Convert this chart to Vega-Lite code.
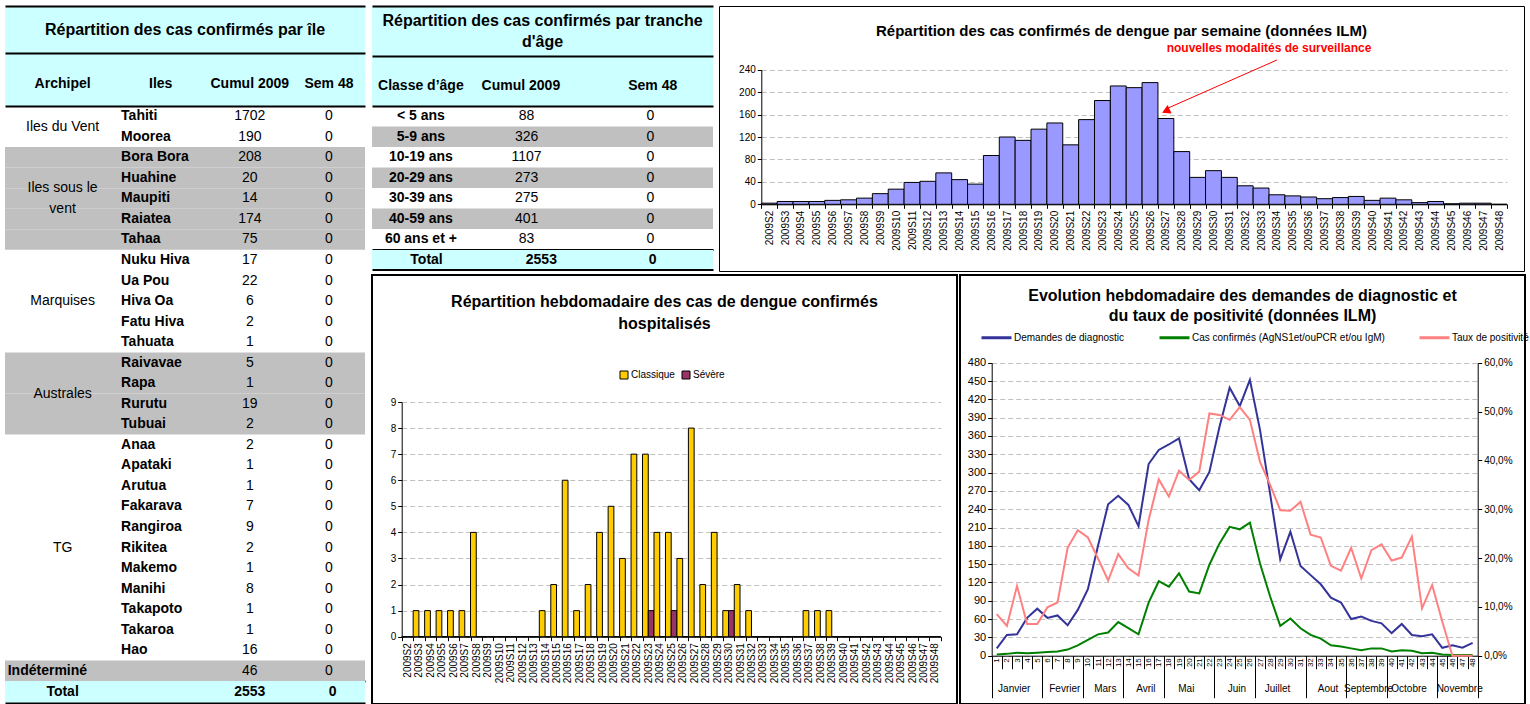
{
"$schema": "https://vega.github.io/schema/vega-lite/v6.json",
"padding": {"left": 5, "top": 5, "right": 0, "bottom": 0},
"background": "#FFFFFF",
"config": {
  "font": "Liberation Sans",
  "view": {"stroke": null},
  "text": {"color": "#000000", "font": "Liberation Sans"},
  "axis": {"labelFont": "Liberation Sans", "labelColor": "#000000", "domainColor": "#000000", "tickColor": "#000000", "gridColor": "#C0C0C0", "gridDash": [5, 3], "titleFont": "Liberation Sans"},
  "legend": {"labelFont": "Liberation Sans", "labelColor": "#000000"},
  "title": {"font": "Liberation Sans", "color": "#000000"}
},
"datasets": {
  "iles": [
    {"archipel": "Iles du Vent", "ile": "Tahiti", "cumul": 1702, "sem48": 0},
    {"archipel": "Iles du Vent", "ile": "Moorea", "cumul": 190, "sem48": 0},
    {"archipel": "Iles sous le vent", "ile": "Bora Bora", "cumul": 208, "sem48": 0},
    {"archipel": "Iles sous le vent", "ile": "Huahine", "cumul": 20, "sem48": 0},
    {"archipel": "Iles sous le vent", "ile": "Maupiti", "cumul": 14, "sem48": 0},
    {"archipel": "Iles sous le vent", "ile": "Raiatea", "cumul": 174, "sem48": 0},
    {"archipel": "Iles sous le vent", "ile": "Tahaa", "cumul": 75, "sem48": 0},
    {"archipel": "Marquises", "ile": "Nuku Hiva", "cumul": 17, "sem48": 0},
    {"archipel": "Marquises", "ile": "Ua Pou", "cumul": 22, "sem48": 0},
    {"archipel": "Marquises", "ile": "Hiva Oa", "cumul": 6, "sem48": 0},
    {"archipel": "Marquises", "ile": "Fatu Hiva", "cumul": 2, "sem48": 0},
    {"archipel": "Marquises", "ile": "Tahuata", "cumul": 1, "sem48": 0},
    {"archipel": "Australes", "ile": "Raivavae", "cumul": 5, "sem48": 0},
    {"archipel": "Australes", "ile": "Rapa", "cumul": 1, "sem48": 0},
    {"archipel": "Australes", "ile": "Rurutu", "cumul": 19, "sem48": 0},
    {"archipel": "Australes", "ile": "Tubuai", "cumul": 2, "sem48": 0},
    {"archipel": "TG", "ile": "Anaa", "cumul": 2, "sem48": 0},
    {"archipel": "TG", "ile": "Apataki", "cumul": 1, "sem48": 0},
    {"archipel": "TG", "ile": "Arutua", "cumul": 1, "sem48": 0},
    {"archipel": "TG", "ile": "Fakarava", "cumul": 7, "sem48": 0},
    {"archipel": "TG", "ile": "Rangiroa", "cumul": 9, "sem48": 0},
    {"archipel": "TG", "ile": "Rikitea", "cumul": 2, "sem48": 0},
    {"archipel": "TG", "ile": "Makemo", "cumul": 1, "sem48": 0},
    {"archipel": "TG", "ile": "Manihi", "cumul": 8, "sem48": 0},
    {"archipel": "TG", "ile": "Takapoto", "cumul": 1, "sem48": 0},
    {"archipel": "TG", "ile": "Takaroa", "cumul": 1, "sem48": 0},
    {"archipel": "TG", "ile": "Hao", "cumul": 16, "sem48": 0},
    {"archipel": "Indéterminé", "ile": null, "cumul": 46, "sem48": 0}
  ],
  "ages": [
    {"classe": "< 5 ans", "cumul": 88, "sem48": 0},
    {"classe": "5-9 ans", "cumul": 326, "sem48": 0},
    {"classe": "10-19 ans", "cumul": 1107, "sem48": 0},
    {"classe": "20-29 ans", "cumul": 273, "sem48": 0},
    {"classe": "30-39 ans", "cumul": 275, "sem48": 0},
    {"classe": "40-59 ans", "cumul": 401, "sem48": 0},
    {"classe": "60 ans et +", "cumul": 83, "sem48": 0}
  ],
  "hebdo": [
    {"semaine": "2009S2", "cas": 2}, {"semaine": "2009S3", "cas": 5}, {"semaine": "2009S4", "cas": 5},
    {"semaine": "2009S5", "cas": 5}, {"semaine": "2009S6", "cas": 7}, {"semaine": "2009S7", "cas": 8},
    {"semaine": "2009S8", "cas": 11}, {"semaine": "2009S9", "cas": 19}, {"semaine": "2009S10", "cas": 27},
    {"semaine": "2009S11", "cas": 39}, {"semaine": "2009S12", "cas": 41}, {"semaine": "2009S13", "cas": 56},
    {"semaine": "2009S14", "cas": 44}, {"semaine": "2009S15", "cas": 36}, {"semaine": "2009S16", "cas": 87},
    {"semaine": "2009S17", "cas": 120}, {"semaine": "2009S18", "cas": 114}, {"semaine": "2009S19", "cas": 134},
    {"semaine": "2009S20", "cas": 145}, {"semaine": "2009S21", "cas": 106}, {"semaine": "2009S22", "cas": 151},
    {"semaine": "2009S23", "cas": 185}, {"semaine": "2009S24", "cas": 211}, {"semaine": "2009S25", "cas": 208},
    {"semaine": "2009S26", "cas": 217}, {"semaine": "2009S27", "cas": 153}, {"semaine": "2009S28", "cas": 94},
    {"semaine": "2009S29", "cas": 48}, {"semaine": "2009S30", "cas": 60}, {"semaine": "2009S31", "cas": 48},
    {"semaine": "2009S32", "cas": 33}, {"semaine": "2009S33", "cas": 29}, {"semaine": "2009S34", "cas": 17},
    {"semaine": "2009S35", "cas": 15}, {"semaine": "2009S36", "cas": 13}, {"semaine": "2009S37", "cas": 10},
    {"semaine": "2009S38", "cas": 12}, {"semaine": "2009S39", "cas": 14}, {"semaine": "2009S40", "cas": 7},
    {"semaine": "2009S41", "cas": 11}, {"semaine": "2009S42", "cas": 8}, {"semaine": "2009S43", "cas": 3},
    {"semaine": "2009S44", "cas": 5}, {"semaine": "2009S45", "cas": 1}, {"semaine": "2009S46", "cas": 2},
    {"semaine": "2009S47", "cas": 2}, {"semaine": "2009S48", "cas": 0}
  ],
  "hosp": [
    {"semaine": "2009S2", "Classique": 0, "Sévère": 0}, {"semaine": "2009S3", "Classique": 1, "Sévère": 0},
    {"semaine": "2009S4", "Classique": 1, "Sévère": 0}, {"semaine": "2009S5", "Classique": 1, "Sévère": 0},
    {"semaine": "2009S6", "Classique": 1, "Sévère": 0}, {"semaine": "2009S7", "Classique": 1, "Sévère": 0},
    {"semaine": "2009S8", "Classique": 4, "Sévère": 0}, {"semaine": "2009S9", "Classique": 0, "Sévère": 0},
    {"semaine": "2009S10", "Classique": 0, "Sévère": 0}, {"semaine": "2009S11", "Classique": 0, "Sévère": 0},
    {"semaine": "2009S12", "Classique": 0, "Sévère": 0}, {"semaine": "2009S13", "Classique": 0, "Sévère": 0},
    {"semaine": "2009S14", "Classique": 1, "Sévère": 0}, {"semaine": "2009S15", "Classique": 2, "Sévère": 0},
    {"semaine": "2009S16", "Classique": 6, "Sévère": 0}, {"semaine": "2009S17", "Classique": 1, "Sévère": 0},
    {"semaine": "2009S18", "Classique": 2, "Sévère": 0}, {"semaine": "2009S19", "Classique": 4, "Sévère": 0},
    {"semaine": "2009S20", "Classique": 5, "Sévère": 0}, {"semaine": "2009S21", "Classique": 3, "Sévère": 0},
    {"semaine": "2009S22", "Classique": 7, "Sévère": 0}, {"semaine": "2009S23", "Classique": 7, "Sévère": 1},
    {"semaine": "2009S24", "Classique": 4, "Sévère": 0}, {"semaine": "2009S25", "Classique": 4, "Sévère": 1},
    {"semaine": "2009S26", "Classique": 3, "Sévère": 0}, {"semaine": "2009S27", "Classique": 8, "Sévère": 0},
    {"semaine": "2009S28", "Classique": 2, "Sévère": 0}, {"semaine": "2009S29", "Classique": 4, "Sévère": 0},
    {"semaine": "2009S30", "Classique": 1, "Sévère": 1}, {"semaine": "2009S31", "Classique": 2, "Sévère": 0},
    {"semaine": "2009S32", "Classique": 1, "Sévère": 0}, {"semaine": "2009S33", "Classique": 0, "Sévère": 0},
    {"semaine": "2009S34", "Classique": 0, "Sévère": 0}, {"semaine": "2009S35", "Classique": 0, "Sévère": 0},
    {"semaine": "2009S36", "Classique": 0, "Sévère": 0}, {"semaine": "2009S37", "Classique": 1, "Sévère": 0},
    {"semaine": "2009S38", "Classique": 1, "Sévère": 0}, {"semaine": "2009S39", "Classique": 1, "Sévère": 0},
    {"semaine": "2009S40", "Classique": 0, "Sévère": 0}, {"semaine": "2009S41", "Classique": 0, "Sévère": 0},
    {"semaine": "2009S42", "Classique": 0, "Sévère": 0}, {"semaine": "2009S43", "Classique": 0, "Sévère": 0},
    {"semaine": "2009S44", "Classique": 0, "Sévère": 0}, {"semaine": "2009S45", "Classique": 0, "Sévère": 0},
    {"semaine": "2009S46", "Classique": 0, "Sévère": 0}, {"semaine": "2009S47", "Classique": 0, "Sévère": 0},
    {"semaine": "2009S48", "Classique": 0, "Sévère": 0}
  ],
  "ilm": [
    {"semaine": 1, "demandes": 12, "confirmes": 2, "taux": 0.085},
    {"semaine": 2, "demandes": 34, "confirmes": 3, "taux": 0.061},
    {"semaine": 3, "demandes": 35, "confirmes": 5, "taux": 0.143},
    {"semaine": 4, "demandes": 62, "confirmes": 4, "taux": 0.065},
    {"semaine": 5, "demandes": 77, "confirmes": 5, "taux": 0.065},
    {"semaine": 6, "demandes": 62, "confirmes": 6, "taux": 0.099},
    {"semaine": 7, "demandes": 66, "confirmes": 7, "taux": 0.109},
    {"semaine": 8, "demandes": 50, "confirmes": 10, "taux": 0.221},
    {"semaine": 9, "demandes": 75, "confirmes": 17, "taux": 0.257},
    {"semaine": 10, "demandes": 109, "confirmes": 26, "taux": 0.242},
    {"semaine": 11, "demandes": 180, "confirmes": 35, "taux": 0.199},
    {"semaine": 12, "demandes": 248, "confirmes": 38, "taux": 0.154},
    {"semaine": 13, "demandes": 262, "confirmes": 55, "taux": 0.208},
    {"semaine": 14, "demandes": 247, "confirmes": 45, "taux": 0.179},
    {"semaine": 15, "demandes": 212, "confirmes": 35, "taux": 0.164},
    {"semaine": 16, "demandes": 314, "confirmes": 87, "taux": 0.278},
    {"semaine": 17, "demandes": 337, "confirmes": 122, "taux": 0.361},
    {"semaine": 18, "demandes": 346, "confirmes": 113, "taux": 0.326},
    {"semaine": 19, "demandes": 356, "confirmes": 135, "taux": 0.379},
    {"semaine": 20, "demandes": 289, "confirmes": 105, "taux": 0.36},
    {"semaine": 21, "demandes": 271, "confirmes": 102, "taux": 0.377},
    {"semaine": 22, "demandes": 301, "confirmes": 149, "taux": 0.496},
    {"semaine": 23, "demandes": 375, "confirmes": 184, "taux": 0.493},
    {"semaine": 24, "demandes": 439, "confirmes": 211, "taux": 0.483},
    {"semaine": 25, "demandes": 409, "confirmes": 207, "taux": 0.509},
    {"semaine": 26, "demandes": 452, "confirmes": 218, "taux": 0.483},
    {"semaine": 27, "demandes": 370, "confirmes": 151, "taux": 0.397},
    {"semaine": 28, "demandes": 265, "confirmes": 97, "taux": 0.35},
    {"semaine": 29, "demandes": 158, "confirmes": 49, "taux": 0.298},
    {"semaine": 30, "demandes": 203, "confirmes": 61, "taux": 0.297},
    {"semaine": 31, "demandes": 147, "confirmes": 45, "taux": 0.315},
    {"semaine": 32, "demandes": 132, "confirmes": 34, "taux": 0.248},
    {"semaine": 33, "demandes": 117, "confirmes": 28, "taux": 0.242},
    {"semaine": 34, "demandes": 95, "confirmes": 17, "taux": 0.184},
    {"semaine": 35, "demandes": 87, "confirmes": 15, "taux": 0.174},
    {"semaine": 36, "demandes": 60, "confirmes": 12, "taux": 0.221},
    {"semaine": 37, "demandes": 64, "confirmes": 9, "taux": 0.158},
    {"semaine": 38, "demandes": 57, "confirmes": 12, "taux": 0.216},
    {"semaine": 39, "demandes": 53, "confirmes": 12, "taux": 0.228},
    {"semaine": 40, "demandes": 37, "confirmes": 7, "taux": 0.195},
    {"semaine": 41, "demandes": 52, "confirmes": 9, "taux": 0.201},
    {"semaine": 42, "demandes": 34, "confirmes": 8, "taux": 0.244},
    {"semaine": 43, "demandes": 32, "confirmes": 4, "taux": 0.097},
    {"semaine": 44, "demandes": 35, "confirmes": 5, "taux": 0.145},
    {"semaine": 45, "demandes": 13, "confirmes": 2, "taux": 0.07},
    {"semaine": 46, "demandes": 17, "confirmes": 1, "taux": 0},
    {"semaine": 47, "demandes": 13, "confirmes": 1, "taux": 0},
    {"semaine": 48, "demandes": 21, "confirmes": 1, "taux": 0}
  ]
},
"hconcat": [
  {
    "vconcat": [
      {
        "width": 360, "height": 47,
        "view": {"fill": "#CCFFFF"},
        "data": {"values": [{"titre": "Répartition des cas confirmés par île"}]},
        "mark": {"type": "text", "fontSize": 16, "fontWeight": "bold", "baseline": "middle"},
        "encoding": {
          "x": {"datum": "Iles", "bandPosition": 1, "scale": {"type": "band", "domain": ["Archipel", "Iles", "Cumul 2009", "Sem 48"], "paddingInner": 0, "paddingOuter": 0}, "axis": {"orient": "top", "labels": false, "ticks": false, "grid": false, "title": null, "domainWidth": 2, "domainColor": "#000000"}},
          "text": {"field": "titre", "type": "nominal"}
        }
      },
      {
        "width": 360, "height": 53,
        "view": {"fill": "#CCFFFF"},
        "data": {"values": [{"col": "Archipel"}, {"col": "Iles"}, {"col": "Cumul 2009"}, {"col": "Sem 48"}]},
        "layer": [
          {"transform": [{"filter": "datum.col === 'Archipel'"}],
           "mark": {"type": "text", "fontSize": 14, "fontWeight": "bold", "baseline": "middle", "dy": 4},
           "encoding": {"x": {"field": "col", "type": "nominal", "bandPosition": 0.64, "scale": {"type": "band", "domain": ["Archipel", "Iles", "Cumul 2009", "Sem 48"], "paddingInner": 0, "paddingOuter": 0}, "axis": {"orient": "top", "labels": false, "ticks": false, "grid": false, "title": null, "domainWidth": 2, "domainColor": "#000000"}}, "text": {"field": "col", "type": "nominal"}}},
          {"transform": [{"filter": "datum.col === 'Iles'"}],
           "mark": {"type": "text", "fontSize": 14, "fontWeight": "bold", "baseline": "middle", "dy": 4},
           "encoding": {"x": {"field": "col", "type": "nominal", "bandPosition": 0.73, "scale": {"type": "band", "domain": ["Archipel", "Iles", "Cumul 2009", "Sem 48"], "paddingInner": 0, "paddingOuter": 0}}, "text": {"field": "col", "type": "nominal"}}},
          {"transform": [{"filter": "datum.col === 'Cumul 2009'"}],
           "mark": {"type": "text", "fontSize": 14, "fontWeight": "bold", "baseline": "middle", "dy": 4},
           "encoding": {"x": {"field": "col", "type": "nominal", "bandPosition": 0.72, "scale": {"type": "band", "domain": ["Archipel", "Iles", "Cumul 2009", "Sem 48"], "paddingInner": 0, "paddingOuter": 0}}, "text": {"field": "col", "type": "nominal"}}},
          {"transform": [{"filter": "datum.col === 'Sem 48'"}],
           "mark": {"type": "text", "fontSize": 14, "fontWeight": "bold", "baseline": "middle", "dy": 4},
           "encoding": {"x": {"field": "col", "type": "nominal", "bandPosition": 0.6, "scale": {"type": "band", "domain": ["Archipel", "Iles", "Cumul 2009", "Sem 48"], "paddingInner": 0, "paddingOuter": 0}}, "text": {"field": "col", "type": "nominal"}}}
        ]
      },
      {
        "width": 360, "height": 575,
        "data": {"name": "iles"},
        "transform": [{"window": [{"op": "row_number", "as": "rang"}]}],
        "layer": [
          {"transform": [{"filter": "indexof(['Iles sous le vent', 'Australes', 'Indéterminé'], datum.archipel) >= 0"}, {"calculate": "datum.rang - 0.5", "as": "r0"}, {"calculate": "datum.rang + 0.5", "as": "r1"}],
           "mark": {"type": "rect", "fill": "#C0C0C0"},
           "encoding": {"y": {"field": "r0", "type": "quantitative", "scale": {"domain": [0.5, 28.5], "reverse": true, "nice": false, "zero": false}, "axis": null}, "y2": {"field": "r1"}}},
          {"transform": [{"filter": "datum.archipel !== 'Indéterminé' && datum.archipel !== 'Iles sous le vent'"}, {"aggregate": [{"op": "mean", "field": "rang", "as": "rm"}], "groupby": ["archipel"]}],
           "mark": {"type": "text", "fontSize": 14, "baseline": "middle"},
           "encoding": {"x": {"datum": "Archipel", "bandPosition": 0.64, "scale": {"type": "band", "domain": ["Archipel", "Iles", "Cumul 2009", "Sem 48"], "paddingInner": 0, "paddingOuter": 0}, "axis": null}, "y": {"field": "rm", "type": "quantitative", "scale": {"domain": [0.5, 28.5], "reverse": true, "nice": false, "zero": false}, "axis": null}, "text": {"field": "archipel", "type": "nominal"}}},
          {"transform": [{"filter": "datum.archipel === 'Iles sous le vent'"}, {"aggregate": [{"op": "mean", "field": "rang", "as": "rm"}], "groupby": ["archipel"]}, {"calculate": "replace(datum.archipel, 'le vent', 'le\\nvent')", "as": "lbl"}],
           "mark": {"type": "text", "fontSize": 14, "baseline": "middle", "lineBreak": "\n", "lineHeight": 20.5, "dy": -10.25},
           "encoding": {"x": {"datum": "Archipel", "bandPosition": 0.64, "scale": {"type": "band", "domain": ["Archipel", "Iles", "Cumul 2009", "Sem 48"], "paddingInner": 0, "paddingOuter": 0}, "axis": null}, "y": {"field": "rm", "type": "quantitative", "scale": {"domain": [0.5, 28.5], "reverse": true, "nice": false, "zero": false}, "axis": null}, "text": {"field": "lbl", "type": "nominal"}}},
          {"transform": [{"filter": "datum.archipel === 'Indéterminé'"}],
           "mark": {"type": "text", "fontSize": 14, "fontWeight": "bold", "align": "left", "baseline": "middle"},
           "encoding": {"x": {"datum": "Archipel", "bandPosition": 0.03, "scale": {"type": "band", "domain": ["Archipel", "Iles", "Cumul 2009", "Sem 48"], "paddingInner": 0, "paddingOuter": 0}, "axis": null}, "y": {"field": "rang", "type": "quantitative", "scale": {"domain": [0.5, 28.5], "reverse": true, "nice": false, "zero": false}, "axis": null}, "text": {"field": "archipel", "type": "nominal"}}},
          {"transform": [{"filter": "datum.ile != null"}],
           "mark": {"type": "text", "fontSize": 14, "fontWeight": "bold", "align": "left", "baseline": "middle"},
           "encoding": {"x": {"datum": "Iles", "bandPosition": 0.29, "scale": {"type": "band", "domain": ["Archipel", "Iles", "Cumul 2009", "Sem 48"], "paddingInner": 0, "paddingOuter": 0}, "axis": {"orient": "top", "labels": false, "ticks": false, "grid": false, "title": null, "domainWidth": 2, "domainColor": "#000000"}}, "y": {"field": "rang", "type": "quantitative", "scale": {"domain": [0.5, 28.5], "reverse": true, "nice": false, "zero": false}, "axis": null}, "text": {"field": "ile", "type": "nominal"}}},
          {"mark": {"type": "text", "fontSize": 14, "baseline": "middle"},
           "encoding": {"x": {"datum": "Cumul 2009", "bandPosition": 0.72, "scale": {"type": "band", "domain": ["Archipel", "Iles", "Cumul 2009", "Sem 48"], "paddingInner": 0, "paddingOuter": 0}, "axis": {"orient": "bottom", "labels": false, "ticks": false, "grid": false, "title": null, "domainWidth": 2, "domainColor": "#000000"}}, "y": {"field": "rang", "type": "quantitative", "scale": {"domain": [0.5, 28.5], "reverse": true, "nice": false, "zero": false}, "axis": null}, "text": {"field": "cumul", "type": "quantitative", "format": "d"}}},
          {"mark": {"type": "text", "fontSize": 14, "baseline": "middle"},
           "encoding": {"x": {"datum": "Sem 48", "bandPosition": 0.6, "scale": {"type": "band", "domain": ["Archipel", "Iles", "Cumul 2009", "Sem 48"], "paddingInner": 0, "paddingOuter": 0}, "axis": null}, "y": {"field": "rang", "type": "quantitative", "scale": {"domain": [0.5, 28.5], "reverse": true, "nice": false, "zero": false}, "axis": null}, "text": {"field": "sem48", "type": "quantitative", "format": "d"}}}
        ],
        "resolve": {"axis": {"x": "independent"}}
      },
      {
        "width": 360, "height": 22,
        "view": {"fill": "#CCFFFF"},
        "data": {"name": "iles"},
        "transform": [{"aggregate": [{"op": "sum", "field": "cumul", "as": "tc"}, {"op": "sum", "field": "sem48", "as": "ts"}]}],
        "layer": [
          {"mark": {"type": "text", "fontSize": 14, "fontWeight": "bold", "baseline": "middle"},
           "encoding": {"x": {"datum": "Archipel", "bandPosition": 0.64, "scale": {"type": "band", "domain": ["Archipel", "Iles", "Cumul 2009", "Sem 48"], "paddingInner": 0, "paddingOuter": 0}, "axis": {"orient": "bottom", "labels": false, "ticks": false, "grid": false, "title": null, "domainWidth": 2, "domainColor": "#000000"}}, "text": {"value": "Total"}}},
          {"mark": {"type": "text", "fontSize": 14, "fontWeight": "bold", "baseline": "middle"},
           "encoding": {"x": {"datum": "Cumul 2009", "bandPosition": 0.72, "scale": {"type": "band", "domain": ["Archipel", "Iles", "Cumul 2009", "Sem 48"], "paddingInner": 0, "paddingOuter": 0}}, "text": {"field": "tc", "type": "quantitative", "format": "d"}}},
          {"mark": {"type": "text", "fontSize": 14, "fontWeight": "bold", "baseline": "middle"},
           "encoding": {"x": {"datum": "Sem 48", "bandPosition": 0.64, "scale": {"type": "band", "domain": ["Archipel", "Iles", "Cumul 2009", "Sem 48"], "paddingInner": 0, "paddingOuter": 0}}, "text": {"field": "ts", "type": "quantitative", "format": "d"}}}
        ]
      }
    ],
    "spacing": 0,
    "bounds": "flush"
  },
  {
    "vconcat": [
      {
        "hconcat": [
          {
            "vconcat": [
              {
                "width": 341, "height": 50,
                "view": {"fill": "#CCFFFF"},
                "data": {"values": [{"titre": "Répartition des cas confirmés par tranche\nd'âge"}]},
                "mark": {"type": "text", "fontSize": 16, "fontWeight": "bold", "baseline": "middle", "lineBreak": "\n", "lineHeight": 21, "dy": -10.5},
                "encoding": {
                  "x": {"datum": "Cumul 2009", "scale": {"type": "band", "domain": ["Classe d’âge", "Cumul 2009", "Sem 48"], "paddingInner": 0, "paddingOuter": 0}, "axis": {"orient": "top", "labels": false, "ticks": false, "grid": false, "title": null, "domainWidth": 2, "domainColor": "#000000"}},
                  "text": {"field": "titre", "type": "nominal"}
                }
              },
              {
                "width": 341, "height": 50,
                "view": {"fill": "#CCFFFF"},
                "data": {"values": [{"col": "Classe d’âge"}, {"col": "Cumul 2009"}, {"col": "Sem 48"}]},
                "layer": [
                  {"transform": [{"filter": "datum.col === 'Classe d’âge'"}],
                   "mark": {"type": "text", "fontSize": 14, "fontWeight": "bold", "baseline": "middle", "dy": 5},
                   "encoding": {"x": {"field": "col", "type": "nominal", "bandPosition": 0.43, "scale": {"type": "band", "domain": ["Classe d’âge", "Cumul 2009", "Sem 48"], "paddingInner": 0, "paddingOuter": 0}, "axis": {"orient": "top", "labels": false, "ticks": false, "grid": false, "title": null, "domainWidth": 2, "domainColor": "#000000"}}, "text": {"field": "col", "type": "nominal"}}},
                  {"transform": [{"filter": "datum.col === 'Cumul 2009'"}],
                   "mark": {"type": "text", "fontSize": 14, "fontWeight": "bold", "baseline": "middle", "dy": 5},
                   "encoding": {"x": {"field": "col", "type": "nominal", "bandPosition": 0.31, "scale": {"type": "band", "domain": ["Classe d’âge", "Cumul 2009", "Sem 48"], "paddingInner": 0, "paddingOuter": 0}}, "text": {"field": "col", "type": "nominal"}}},
                  {"transform": [{"filter": "datum.col === 'Sem 48'"}],
                   "mark": {"type": "text", "fontSize": 14, "fontWeight": "bold", "baseline": "middle", "dy": 5},
                   "encoding": {"x": {"field": "col", "type": "nominal", "bandPosition": 0.47, "scale": {"type": "band", "domain": ["Classe d’âge", "Cumul 2009", "Sem 48"], "paddingInner": 0, "paddingOuter": 0}}, "text": {"field": "col", "type": "nominal"}}}
                ]
              },
              {
                "width": 341, "height": 143.5,
                "data": {"name": "ages"},
                "transform": [{"window": [{"op": "row_number", "as": "rang"}]}],
                "layer": [
                  {"transform": [{"filter": "datum.rang % 2 === 0"}, {"calculate": "datum.rang - 0.5", "as": "r0"}, {"calculate": "datum.rang + 0.5", "as": "r1"}],
                   "mark": {"type": "rect", "fill": "#C0C0C0"},
                   "encoding": {"y": {"field": "r0", "type": "quantitative", "scale": {"domain": [0.5, 7.5], "reverse": true, "nice": false, "zero": false}, "axis": null}, "y2": {"field": "r1"}}},
                  {"mark": {"type": "text", "fontSize": 14, "fontWeight": "bold", "baseline": "middle"},
                   "encoding": {"x": {"datum": "Classe d’âge", "bandPosition": 0.43, "scale": {"type": "band", "domain": ["Classe d’âge", "Cumul 2009", "Sem 48"], "paddingInner": 0, "paddingOuter": 0}, "axis": {"orient": "top", "labels": false, "ticks": false, "grid": false, "title": null, "domainWidth": 2, "domainColor": "#000000"}}, "y": {"field": "rang", "type": "quantitative", "scale": {"domain": [0.5, 7.5], "reverse": true, "nice": false, "zero": false}, "axis": null}, "text": {"field": "classe", "type": "nominal"}}},
                  {"mark": {"type": "text", "fontSize": 14, "baseline": "middle"},
                   "encoding": {"x": {"datum": "Cumul 2009", "bandPosition": 0.36, "scale": {"type": "band", "domain": ["Classe d’âge", "Cumul 2009", "Sem 48"], "paddingInner": 0, "paddingOuter": 0}, "axis": {"orient": "bottom", "labels": false, "ticks": false, "grid": false, "title": null, "domainWidth": 2, "domainColor": "#000000"}}, "y": {"field": "rang", "type": "quantitative", "scale": {"domain": [0.5, 7.5], "reverse": true, "nice": false, "zero": false}, "axis": null}, "text": {"field": "cumul", "type": "quantitative", "format": "d"}}},
                  {"mark": {"type": "text", "fontSize": 14, "baseline": "middle"},
                   "encoding": {"x": {"datum": "Sem 48", "bandPosition": 0.45, "scale": {"type": "band", "domain": ["Classe d’âge", "Cumul 2009", "Sem 48"], "paddingInner": 0, "paddingOuter": 0}, "axis": null}, "y": {"field": "rang", "type": "quantitative", "scale": {"domain": [0.5, 7.5], "reverse": true, "nice": false, "zero": false}, "axis": null}, "text": {"field": "sem48", "type": "quantitative", "format": "d"}}}
                ],
                "resolve": {"axis": {"x": "independent"}}
              },
              {
                "width": 341, "height": 19.5,
                "view": {"fill": "#CCFFFF"},
                "data": {"name": "ages"},
                "transform": [{"aggregate": [{"op": "sum", "field": "cumul", "as": "tc"}, {"op": "sum", "field": "sem48", "as": "ts"}]}],
                "layer": [
                  {"mark": {"type": "text", "fontSize": 14, "fontWeight": "bold", "baseline": "middle"},
                   "encoding": {"x": {"datum": "Classe d’âge", "bandPosition": 0.48, "scale": {"type": "band", "domain": ["Classe d’âge", "Cumul 2009", "Sem 48"], "paddingInner": 0, "paddingOuter": 0}, "axis": {"orient": "bottom", "labels": false, "ticks": false, "grid": false, "title": null, "domainWidth": 2, "domainColor": "#000000"}}, "text": {"value": "Total"}}},
                  {"mark": {"type": "text", "fontSize": 14, "fontWeight": "bold", "baseline": "middle"},
                   "encoding": {"x": {"datum": "Cumul 2009", "bandPosition": 0.49, "scale": {"type": "band", "domain": ["Classe d’âge", "Cumul 2009", "Sem 48"], "paddingInner": 0, "paddingOuter": 0}}, "text": {"field": "tc", "type": "quantitative", "format": "d"}}},
                  {"mark": {"type": "text", "fontSize": 14, "fontWeight": "bold", "baseline": "middle"},
                   "encoding": {"x": {"datum": "Sem 48", "bandPosition": 0.47, "scale": {"type": "band", "domain": ["Classe d’âge", "Cumul 2009", "Sem 48"], "paddingInner": 0, "paddingOuter": 0}}, "text": {"field": "ts", "type": "quantitative", "format": "d"}}}
                ]
              }
            ],
            "spacing": 0,
            "bounds": "flush"
          },
          {
            "width": 805, "height": 265,
            "view": {"stroke": "#000000", "strokeWidth": 1},
            "title": {"text": "Répartition des cas confirmés de dengue par semaine (données ILM)", "fontSize": 15, "fontWeight": "bold", "anchor": "middle", "frame": "group", "offset": -33},
            "layer": [
              {
                "data": {"name": "hebdo"},
                "mark": {"type": "bar", "fill": "#9999FF", "stroke": "#000000", "strokeWidth": 1},
                "encoding": {
                  "x": {"field": "semaine", "type": "ordinal", "sort": null,
                        "scale": {"type": "band", "domain": ["2009S2","2009S3","2009S4","2009S5","2009S6","2009S7","2009S8","2009S9","2009S10","2009S11","2009S12","2009S13","2009S14","2009S15","2009S16","2009S17","2009S18","2009S19","2009S20","2009S21","2009S22","2009S23","2009S24","2009S25","2009S26","2009S27","2009S28","2009S29","2009S30","2009S31","2009S32","2009S33","2009S34","2009S35","2009S36","2009S37","2009S38","2009S39","2009S40","2009S41","2009S42","2009S43","2009S44","2009S45","2009S46","2009S47","2009S48"], "range": [42.3, 788], "paddingInner": 0, "paddingOuter": 0},
                        "axis": {"orient": "bottom", "offset": -66.7, "title": null, "labelAngle": 270, "labelFontSize": 10, "labelPadding": 2, "tickSize": 4, "tickBand": "extent", "labelOverlap": false, "grid": false}},
                  "y": {"field": "cas", "type": "quantitative",
                        "scale": {"domain": [0, 240], "range": [198.3, 63.7], "nice": false},
                        "axis": {"orient": "left", "offset": -42.3, "title": null, "values": [0,20,40,60,80,100,120,140,160,180,200,220,240], "labelFontSize": 10, "tickSize": 4, "labelPadding": 2, "grid": true}}
                }
              },
              {
                "data": {"values": [{"note": "nouvelles modalités de surveillance"}]},
                "mark": {"type": "text", "color": "#FF0000", "fontSize": 12, "fontWeight": "bold", "baseline": "middle"},
                "encoding": {"x": {"datum": "2009S33", "bandPosition": 1}, "y": {"datum": 278.7}, "text": {"field": "note", "type": "nominal"}}
              },
              {
                "data": {"values": [{}]},
                "mark": {"type": "rule", "color": "#FF0000", "strokeWidth": 1},
                "encoding": {"x": {"datum": "2009S34"}, "y": {"datum": 257.3}, "x2": {"datum": "2009S27"}, "y2": {"datum": 169.9}}
              },
              {
                "data": {"values": [{}]},
                "mark": {"type": "point", "shape": "triangle-up", "filled": true, "color": "#FF0000", "size": 90, "angle": 245, "opacity": 1},
                "encoding": {"x": {"datum": "2009S27"}, "y": {"datum": 166.4}}
              }
            ]
          }
        ],
        "spacing": 0
      },
      {
        "hconcat": [
          {
            "width": 585, "height": 429,
            "view": {"stroke": "#000000", "strokeWidth": 2},
            "title": {"text": ["Répartition hebdomadaire  des cas de dengue confirmés", "hospitalisés"], "fontSize": 16, "fontWeight": "bold", "lineHeight": 22, "anchor": "middle", "frame": "group", "offset": -57},
            "data": {"name": "hosp"},
            "transform": [{"fold": ["Classique", "Sévère"], "as": ["type", "n"]}],
            "mark": {"type": "bar", "stroke": "#000000", "strokeWidth": 1},
            "encoding": {
              "x": {"field": "semaine", "type": "ordinal", "sort": null,
                    "scale": {"type": "band", "range": [29.7, 568.7], "paddingInner": 0, "paddingOuter": 0},
                    "axis": {"orient": "bottom", "offset": -67.3, "title": null, "labelAngle": 270, "labelFontSize": 10, "labelPadding": 2, "tickSize": 4, "tickBand": "extent", "labelOverlap": false, "grid": false}},
              "xOffset": {"field": "type", "type": "nominal", "sort": ["Classique", "Sévère"], "scale": {"paddingInner": 0, "paddingOuter": 0}},
              "y": {"field": "n", "type": "quantitative", "stack": null,
                    "scale": {"domain": [0, 9], "range": [361.7, 127], "nice": false},
                    "axis": {"orient": "left", "offset": -29.7, "title": null, "values": [0,1,2,3,4,5,6,7,8,9], "labelFontSize": 10, "tickSize": 4, "labelPadding": 2, "grid": true}},
              "color": {"field": "type", "type": "nominal",
                        "scale": {"domain": ["Classique", "Sévère"], "range": ["#FFCC00", "#993366"]},
                        "legend": {"orient": "none", "legendX": 247, "legendY": 95, "direction": "horizontal", "title": null, "symbolType": "square", "symbolSize": 64, "symbolStrokeColor": "#000000", "symbolStrokeWidth": 1, "labelFontSize": 10, "labelOffset": 2, "columnPadding": 5, "padding": 0}}
            }
          },
          {
            "width": 565, "height": 429,
            "view": {"stroke": "#000000", "strokeWidth": 2},
            "title": {"text": ["Evolution hebdomadaire des demandes de diagnostic et", "du taux de positivité (données ILM)"], "fontSize": 16, "fontWeight": "bold", "lineHeight": 20, "anchor": "middle", "frame": "group", "offset": -49},
            "data": {"name": "ilm"},
            "transform": [{"fold": ["demandes", "confirmes", "taux"], "as": ["serie", "valeur"]}],
            "layer": [
              {
                "transform": [{"filter": "datum.serie !== 'taux'"}],
                "mark": {"type": "line", "strokeWidth": 2},
                "encoding": {
                  "x": {"field": "semaine", "type": "quantitative",
                        "scale": {"domain": [0.5, 48.5], "range": [31.7, 517.7], "nice": false, "zero": false},
                        "axis": {"orient": "bottom", "offset": -48.3, "title": null, "values": [1,2,3,4,5,6,7,8,9,10,11,12,13,14,15,16,17,18,19,20,21,22,23,24,25,26,27,28,29,30,31,32,33,34,35,36,37,38,39,40,41,42,43,44,45,46,47,48], "labelAngle": 270, "labelFontSize": 8, "tickSize": 13, "tickOffset": 5.0625, "labelOffset": -5.0625, "labelPadding": -11, "labelOverlap": false, "labelFlush": false, "labelBound": false, "grid": false}},
                  "y": {"field": "valeur", "type": "quantitative",
                        "scale": {"domain": [0, 480], "range": [380.7, 87.7], "nice": false},
                        "axis": {"orient": "left", "offset": -31.7, "title": null, "values": [0,30,60,90,120,150,180,210,240,270,300,330,360,390,420,450,480], "labelFontSize": 11, "tickSize": 4, "labelPadding": 2, "grid": true}},
                  "color": {"field": "serie", "type": "nominal",
                            "scale": {"domain": ["demandes", "confirmes", "taux"], "range": ["#333399", "#008000", "#FF8080"]},
                            "legend": {"orient": "none", "legendX": 20, "legendY": 46, "direction": "horizontal", "title": null, "symbolType": "stroke", "symbolSize": 900, "symbolStrokeWidth": 3, "labelFontSize": 10, "labelOffset": 1, "labelLimit": 400, "columnPadding": 28, "padding": 0,
                                       "labelExpr": "datum.label === 'demandes' ? 'Demandes de diagnostic' : datum.label === 'confirmes' ? 'Cas confirmés (AgNS1et/ouPCR et/ou IgM)' : 'Taux de positivité'"}}
                }
              },
              {
                "transform": [{"filter": "datum.serie === 'taux'"}],
                "mark": {"type": "line", "strokeWidth": 2},
                "encoding": {
                  "x": {"field": "semaine", "type": "quantitative",
                        "scale": {"domain": [0.5, 48.5], "range": [31.7, 517.7], "nice": false, "zero": false},
                        "axis": {"orient": "bottom", "offset": -48.3, "title": null, "values": [0.5, 5.5, 9.5, 13.5, 17.5, 22.5, 26.5, 31.5, 35.5, 39.5, 44.5, 48.5], "labelExpr": "datum.value < 1 ? 'Janvier' : datum.value < 6 ? 'Fevrier' : datum.value < 10 ? 'Mars' : datum.value < 14 ? 'Avril' : datum.value < 18 ? 'Mai' : datum.value < 23 ? 'Juin' : datum.value < 27 ? 'Juillet' : datum.value < 32 ? 'Aout' : datum.value < 36 ? 'Septembre' : datum.value < 40 ? 'Octobre' : datum.value < 45 ? 'Novembre' : ''", "labelAngle": 0, "labelFontSize": 10, "tickSize": 42, "labelOffset": 22, "labelPadding": -14.5, "domain": false, "labelOverlap": false, "labelFlush": false, "labelBound": false, "grid": false}},
                  "y": {"field": "valeur", "type": "quantitative",
                        "scale": {"domain": [0, 0.6], "range": [380.7, 87.7], "nice": false},
                        "axis": {"orient": "right", "offset": -47.3, "title": null, "values": [0, 0.1, 0.2, 0.3, 0.4, 0.5, 0.6], "labelExpr": "replace(format(datum.value, '.1%'), '.', ',')", "labelFontSize": 10, "tickSize": 4, "labelPadding": 2, "grid": false}},
                  "color": {"field": "serie", "type": "nominal",
                            "scale": {"domain": ["demandes", "confirmes", "taux"], "range": ["#333399", "#008000", "#FF8080"]}}
                }
              }
            ],
            "resolve": {"scale": {"y": "independent"}, "axis": {"x": "independent"}}
          }
        ],
        "spacing": 3,
        "bounds": "flush",
        "resolve": {"scale": {"color": "independent"}}
      }
    ],
    "spacing": 2
  }
],
"spacing": 1
}
